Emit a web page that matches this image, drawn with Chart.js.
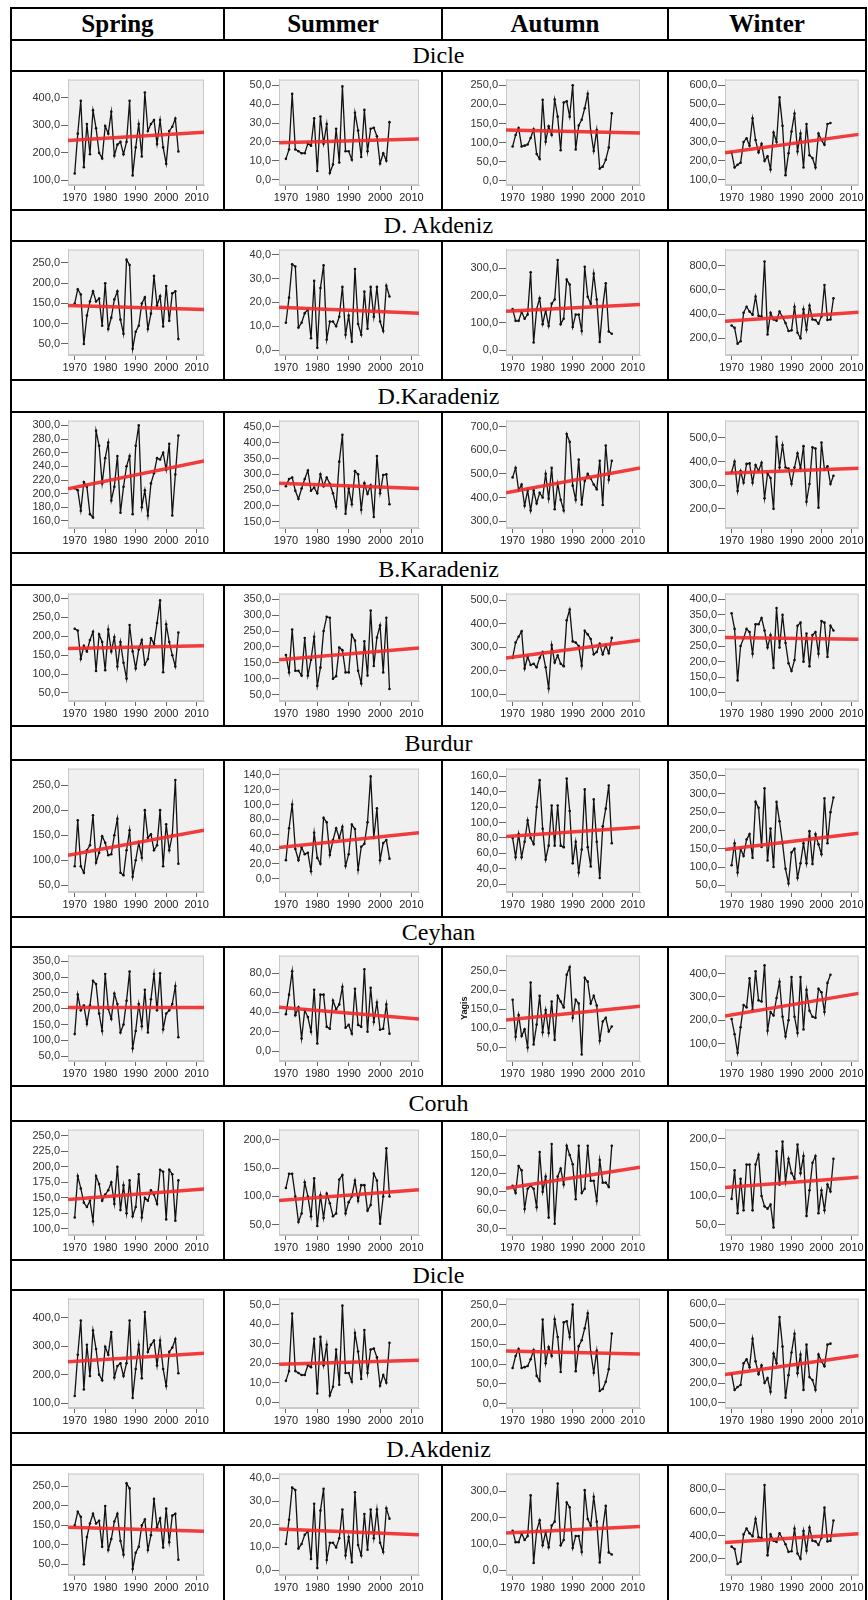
<!DOCTYPE html>
<html>
<head>
<meta charset="utf-8">
<script src="https://cdn.jsdelivr.net/npm/chart.js@4.4.0/dist/chart.umd.min.js"></script>
<style>
body { margin: 0; background: #fff; width: 868px; height: 1600px; position: relative; overflow: hidden; font-family: "Liberation Serif", "Times New Roman", serif; }
.hl { position: absolute; background: #000; height: 2px; }
.vl { position: absolute; background: #000; width: 2px; }
.head { position: absolute; font-weight: bold; font-size: 25px; text-align: center; }
.region { position: absolute; font-size: 24px; text-align: center; }
canvas { position: absolute; }
</style>
</head>
<body>
<script>
// ---- data (values from 1970 on) ----
const seasons = ["Spring", "Summer", "Autumn", "Winter"]
const regionNames = ["Dicle", "D. Akdeniz", "D.Karadeniz", "B.Karadeniz", "Burdur", "Ceyhan", "Coruh", "Dicle", "D.Akdeniz"]
const firstYear = 1970
const xTicks = [1970, 1980, 1990, 2000, 2010]

const dicleSpring = [125,270,390,148,305,195,355,290,200,180,298,270,350,190,230,240,195,240,390,118,220,305,187,420,280,305,320,232,320,220,160,280,295,325,205]
const dicleSummer = [11,16,45.5,16,15,14,14,19,18,32.5,4.5,33.5,19,29.5,3.5,8,27,9,49.5,15,15,10.5,35.5,26,12,37,15,27,27.5,23,8.5,14,10,30.5]
const dicleAutumn = [90,120,138,90,92,95,112,135,70,57,212,102,143,120,213,168,80,205,208,168,250,82,145,160,190,228,130,78,133,32,37,55,87,177]
const dicleWinter = [245,165,180,190,300,320,280,425,310,245,290,200,225,155,350,300,535,385,125,240,355,450,250,345,165,395,230,215,165,345,310,285,395,400]

const akdenizSpring = [150,185,172,50,120,155,180,155,162,95,200,87,115,160,180,110,75,258,245,38,80,95,150,165,87,125,218,145,168,93,193,107,175,180,62]
const akdenizSummer = [11.5,22,36,35,9.5,11.5,15.5,17,5,29,1,26,35.5,4.5,12,12,10,14,26.5,6.5,14.5,3.5,34,11,6.5,24.5,9,26.5,14,26.5,12,8,27,22.5]
const akdenizAutumn = [150,107,107,140,115,130,285,28,150,190,95,145,88,170,185,330,95,115,258,240,85,130,130,70,305,195,170,280,185,30,160,245,68,60]
const akdenizWinter = [305,285,155,175,410,460,420,395,545,385,380,835,230,410,355,345,420,375,325,260,265,460,245,200,440,270,470,355,350,320,380,640,350,355,530]

const dKaradenizSpring = [208,205,175,217,210,170,165,292,270,215,252,275,190,210,255,172,210,240,255,170,270,300,180,205,168,215,230,252,250,260,235,273,168,228,285]
const dKaradenizSummer = [262,285,290,248,222,255,285,312,248,258,240,300,262,290,270,240,198,340,425,175,255,205,310,300,188,272,238,265,165,358,240,298,300,205]
const dKaradenizAutumn = [485,525,430,455,365,430,345,430,375,420,400,500,395,525,350,460,390,345,668,635,450,390,560,370,470,500,480,455,435,555,368,620,475,555]
const dKaradenizWinter = [355,400,275,360,310,390,392,310,385,360,395,245,350,330,200,505,375,470,375,370,305,375,435,370,465,230,305,460,455,205,480,365,380,305,340]

const bKaradenizSpring = [220,215,140,175,160,190,212,108,205,185,110,218,160,198,120,185,130,88,230,160,115,165,190,125,140,195,180,235,295,105,232,185,150,120,210]
const bKaradenizSummer = [175,120,255,125,125,110,228,110,160,232,78,135,250,295,292,100,108,198,190,120,120,238,220,125,85,218,110,315,140,230,268,120,292,68]
const bKaradenizAutumn = [255,320,345,368,210,260,225,230,215,255,280,215,125,310,235,265,230,220,415,460,325,320,305,222,370,355,335,270,280,315,270,310,275,340]
const bKaradenizWinter = [355,305,140,250,275,305,295,225,320,320,340,300,245,285,180,372,245,350,260,195,170,205,315,325,200,290,185,285,295,225,330,325,215,315,300]

const burdurSpring = [88,180,88,75,120,130,190,95,115,148,135,110,112,150,183,75,70,120,160,67,100,135,105,200,145,152,120,130,200,88,172,120,150,260,93]
const burdurSummer = [25,68,100,40,25,42,33,35,10,62,28,20,82,76,32,52,68,55,70,17,33,73,67,12,43,47,76,138,55,95,25,48,52,27]
const burdurAutumn = [80,55,85,55,75,103,80,72,120,155,92,52,70,122,70,122,70,68,157,115,47,75,35,65,143,68,43,130,75,28,95,118,148,73]
const burdurWinter = [105,165,85,150,130,175,190,125,278,262,155,315,118,205,100,278,225,165,95,55,140,150,70,110,165,110,198,108,190,162,135,288,165,250,290]

const ceyhanSpring = [120,245,195,210,152,210,288,278,185,130,310,200,168,248,215,125,150,225,318,75,130,215,145,260,125,230,310,195,312,135,185,195,215,272,110]
const ceyhanSummer = [38,58,82,37,45,13,42,35,20,63,8,58,58,25,23,52,43,48,66,24,27,18,64,27,25,84,20,65,30,50,22,23,48,18]
const ceyhanAutumn = [175,78,135,80,98,50,220,58,110,185,90,148,88,170,70,185,170,155,240,260,128,175,165,32,232,222,165,185,160,68,118,128,92,105]
const ceyhanWinter = [205,140,60,170,265,255,380,245,410,285,280,435,155,235,220,295,365,215,130,200,385,215,145,385,160,330,240,215,210,335,320,235,360,395]

const coruhSpring = [118,185,165,142,135,145,112,185,172,145,155,162,175,140,200,130,170,125,178,120,135,188,118,150,145,162,155,140,195,192,115,195,188,113,178]
const coruhSummer = [115,140,140,100,55,70,125,100,65,132,48,102,62,105,88,65,70,130,138,70,90,100,128,92,120,120,75,85,140,128,52,100,185,100]
const coruhAutumn = [100,88,132,125,62,95,100,95,65,155,90,115,48,168,38,115,128,102,165,150,135,78,165,88,95,165,108,108,75,142,105,105,98,165]
const coruhWinter = [95,145,70,130,75,155,155,75,155,172,100,82,78,85,45,178,120,195,125,165,140,130,190,140,170,65,110,158,170,70,110,75,120,108,165]

// trend line ends (at left and right edge of the x axis)
const dicleTrend = [[245,275],[19.5,21.5],[133,125],[243,340]]
const akdenizTrend = [[145,135],[18,15.5],[142,167],[340,415]]
const dKaradenizTrend = [[207,248],[272,255],[420,525],[350,372]]
const bKaradenizTrend = [[168,175],[160,197],[255,330],[277,272]]
const burdurTrend = [[110,160],[42,62],[82,94],[148,192]]
const ceyhanTrend = [[204,204],[45,33],[122,158],[218,315]]
const coruhTrend = [[147,164],[93,112],[96,130],[115,133]]

// y axis [min, max, tick step]
const dicleAxis = [[83,467,100],[-2.9,53.1,10],[-11,265,50],[73,629,100]]
const akdenizAxis = [[22.7,283,50],[-2,42.1,10],[-18,368,100],[61,933,200]]
const dKaradenizAxis = [[149.7,307,20],[130,470,50],[271,725,100],[119,573,100]]
const bKaradenizAxis = [[28.7,313,50],[30,368,50],[72,528,100],[74,418,50]]
const burdurAxis = [[36.6,283,50],[-18,148.5,20],[9.8,170,20],[31.7,369,50]]
const ceyhanAxis = [[35,368,50],[-10,98,20],[15,290,50],[25,477,100]]
const coruhAxis = [[89.8,260,25],[32,218,50],[19.6,191.5,30],[32,216,50]]

const xMin = 1967.8
const xMax = 2012.4

const rows = [
  [[dicleSpring, dicleSummer, dicleAutumn, dicleWinter], dicleTrend, dicleAxis],
  [[akdenizSpring, akdenizSummer, akdenizAutumn, akdenizWinter], akdenizTrend, akdenizAxis],
  [[dKaradenizSpring, dKaradenizSummer, dKaradenizAutumn, dKaradenizWinter], dKaradenizTrend, dKaradenizAxis],
  [[bKaradenizSpring, bKaradenizSummer, bKaradenizAutumn, bKaradenizWinter], bKaradenizTrend, bKaradenizAxis],
  [[burdurSpring, burdurSummer, burdurAutumn, burdurWinter], burdurTrend, burdurAxis],
  [[ceyhanSpring, ceyhanSummer, ceyhanAutumn, ceyhanWinter], ceyhanTrend, ceyhanAxis],
  [[coruhSpring, coruhSummer, coruhAutumn, coruhWinter], coruhTrend, coruhAxis],
  [[dicleSpring, dicleSummer, dicleAutumn, dicleWinter], dicleTrend, dicleAxis],
  [[akdenizSpring, akdenizSummer, akdenizAutumn, akdenizWinter], akdenizTrend, akdenizAxis]
]

// ---- table layout ----
const colLines = [11, 224, 442, 668, 866]
const topLine = 8
const headLine = 40
// [label top, chart top, chart bottom]
const rowLines = [[40,71,210],[210,241,380],[380,412,553],[553,585,726],[726,760,917],[917,947,1086],[1086,1121,1260],[1260,1290,1433],[1433,1465,1600]]
const plotLeft = [57, 55, 64, 57]
const plotRight = [20, 23, 28, 7]

function line(cls, x, y, len) {
  const d = document.createElement("div")
  d.className = cls
  if (cls === "hl") { d.style.left = x + "px"; d.style.top = (y - 1) + "px"; d.style.width = len + "px" }
  else { d.style.left = (x - 1) + "px"; d.style.top = y + "px"; d.style.height = len + "px" }
  document.body.appendChild(d)
}

const fullW = colLines[4] - colLines[0] + 1
line("hl", colLines[0] - 1, topLine, fullW + 1)
line("hl", colLines[0] - 1, headLine, fullW + 1)
line("vl", colLines[0], topLine - 1, 1600)
line("vl", colLines[4], topLine - 1, 1600)
for (let c = 1; c < 4; c++) line("vl", colLines[c], topLine, headLine - topLine)

seasons.forEach((s, c) => {
  const d = document.createElement("div")
  d.className = "head"
  d.textContent = s
  d.style.left = colLines[c] + "px"
  d.style.width = (colLines[c + 1] - colLines[c]) + "px"
  d.style.top = topLine + "px"
  d.style.height = (headLine - topLine) + "px"
  d.style.lineHeight = (headLine - topLine) + "px"
  document.body.appendChild(d)
})

const plotBg = {
  id: "plotBg",
  beforeDraw(chart) {
    const a = chart.chartArea, ctx = chart.ctx
    ctx.save()
    ctx.fillStyle = "#f0f0f0"
    ctx.fillRect(a.left, a.top, a.right - a.left, a.bottom - a.top)
    ctx.strokeStyle = "#c8c8c8"
    ctx.lineWidth = 1
    ctx.strokeRect(a.left + 0.5, a.top + 0.5, a.right - a.left - 1, a.bottom - a.top - 1)
    ctx.restore()
  }
}

function makeChart(canvas, values, trend, axis, col, yTitle) {
  const pts = values.map((v, i) => ({ x: firstYear + i, y: v }))
  const step = axis[2]
  const yTicks = []
  for (let v = Math.ceil(axis[0] / step) * step; v <= axis[1]; v += step) yTicks.push(v)
  const padLeft = yTitle ? 16 : 0
  new Chart(canvas, {
    type: "line",
    data: {
      datasets: [
        { data: [{ x: xMin, y: trend[0] }, { x: xMax, y: trend[1] }], borderColor: "rgba(240,45,45,0.92)", borderWidth: 3.5, pointRadius: 0, order: 0 },
        { data: pts, borderColor: "#111", borderWidth: 1.3, pointRadius: 1.3, pointBackgroundColor: "#111", pointBorderWidth: 0, tension: 0, order: 1 }
      ]
    },
    options: {
      responsive: false,
      animation: false,
      devicePixelRatio: 1,
      layout: { padding: { top: 5, right: plotRight[col] - 1, left: padLeft, bottom: 0 } },
      plugins: { legend: { display: false }, tooltip: { enabled: false } },
      scales: {
        x: {
          type: "linear", min: xMin, max: xMax,
          afterBuildTicks: s => { s.ticks = xTicks.map(v => ({ value: v })) },
          afterFit: s => { s.height = 24 },
          grid: { drawOnChartArea: false, drawTicks: true, tickLength: 5, color: "#666" },
          border: { color: "#c8c8c8" },
          ticks: { font: { family: "Arial, Liberation Sans", size: 11 }, color: "#222", callback: v => String(v), maxRotation: 0, autoSkip: false, padding: 1 }
        },
        y: {
          min: axis[0], max: axis[1],
          afterBuildTicks: s => { s.ticks = yTicks.map(v => ({ value: v })) },
          afterFit: s => { s.width = plotLeft[col] - 1 - padLeft },
          grid: { drawOnChartArea: false, drawTicks: true, tickLength: 7, color: "#666" },
          border: { color: "#c8c8c8" },
          title: { display: !!yTitle, text: yTitle || "", font: { family: "Arial, Liberation Sans", size: 9, weight: "bold" }, color: "#111", padding: 0 },
          ticks: { font: { family: "Arial, Liberation Sans", size: 11 }, color: "#333", callback: v => v.toFixed(1).replace(".", ","), padding: 1, autoSkip: false }
        }
      }
    },
    plugins: [plotBg]
  })
}

rowLines.forEach((rl, r) => {
  const [labelTop, chartTop, chartBottom] = rl
  line("hl", colLines[0] - 1, chartTop, fullW + 1)
  if (chartBottom < 1600) line("hl", colLines[0] - 1, chartBottom, fullW + 1)
  for (let c = 1; c < 4; c++) line("vl", colLines[c], chartTop, chartBottom - chartTop)

  const lab = document.createElement("div")
  lab.className = "region"
  lab.textContent = regionNames[r]
  lab.style.left = colLines[0] + "px"
  lab.style.width = (colLines[4] - colLines[0]) + "px"
  lab.style.top = labelTop + "px"
  lab.style.height = (chartTop - labelTop) + "px"
  lab.style.lineHeight = (chartTop - labelTop) + "px"
  document.body.appendChild(lab)

  const [series, trends, axes] = rows[r]
  for (let c = 0; c < 4; c++) {
    const cv = document.createElement("canvas")
    const w = colLines[c + 1] - colLines[c] - 2
    const h = chartBottom - chartTop - 2
    cv.width = w
    cv.height = h
    cv.style.left = (colLines[c] + 1) + "px"
    cv.style.top = (chartTop + 1) + "px"
    document.body.appendChild(cv)
    const title = (r === 5 && c === 2) ? "Yagis" : null
    makeChart(cv, series[c], trends[c], axes[c], c, title)
  }
})
</script>
</body>
</html>
